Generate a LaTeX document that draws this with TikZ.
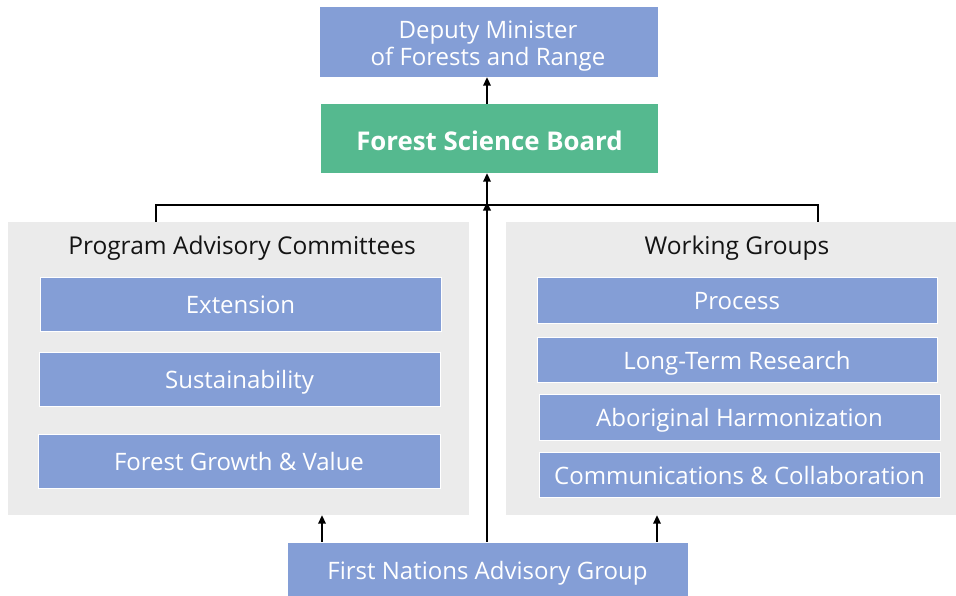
\documentclass[tikz,border=0pt]{standalone}
\usepackage{fontspec}
\setmainfont{Open Sans}
\usetikzlibrary{arrows.meta}
\definecolor{boxblue}{RGB}{132,158,214}
\definecolor{boardgreen}{RGB}{85,185,143}
\definecolor{panelgrey}{RGB}{235,235,235}
\definecolor{titleblack}{RGB}{20,20,20}
\tikzset{
  bluebox/.style={fill=boxblue, draw=white, line width=0.8pt, text=white, font=\fontsize{24}{27}\selectfont, inner sep=0pt, text height=19.5pt, text depth=0pt},
  greenbox/.style={fill=boardgreen, text=white, font=\bfseries\fontsize{25.8}{28}\selectfont, inner sep=0pt, text height=24pt, text depth=0pt},
  panel/.style={fill=panelgrey, inner sep=0pt},
  paneltitle/.style={text=titleblack, font=\fontsize{24.5}{27}\selectfont, inner sep=0pt},
  boxtext/.style={text=white, font=\fontsize{24}{27}\selectfont, inner sep=0pt, align=center},
  conn/.style={line width=2pt, black},
  arr/.style={conn, -{Triangle[length=8.5pt,width=7.5pt]}},
}
\begin{document}
\begin{tikzpicture}[x=1pt,y=-1pt]
\useasboundingbox[fill=white] (0,0) rectangle (956,595);
% top
\node[fill=boxblue, inner sep=0pt, minimum width=338, minimum height=70] (dm) at (489,42) {};
\node[boxtext] (dmt) at (488,46.5) {Deputy Minister\\of Forests and Range};
\node[greenbox, minimum width=337, minimum height=69] (fsb) at (489.5,138.5) {Forest Science Board};
% panels
\node[panel, minimum width=461, minimum height=293] (pac) at (238.5,368.5) {};
\node[paneltitle] (pact) at (242,248) {Program Advisory Committees};
\node[panel, minimum width=452, minimum height=293] (wg) at (732,368.5) {};
\node[paneltitle] (wgt) at (737,248) {Working Groups};
% left boxes
\node[bluebox, minimum width=401, minimum height=54] (ext) at (240.5,304) {Extension};
\node[bluebox, minimum width=401, minimum height=54] (sus) at (239.5,379) {Sustainability};
\node[bluebox, minimum width=402, minimum height=54] (fgv) at (239,461) {Forest Growth \& Value};
% right boxes
\node[bluebox, minimum width=400, minimum height=46] (proc) at (737,300) {Process};
\node[bluebox, minimum width=400, minimum height=45] (ltr) at (737,359.5) {Long-Term Research};
\node[bluebox, minimum width=401, minimum height=46] (abh) at (739.5,417) {Aboriginal Harmonization};
\node[bluebox, minimum width=401, minimum height=45] (cc) at (739.5,474.5) {Communications \& Collaboration};
% bottom
\node[bluebox, minimum width=401, minimum height=56] (fnag) at (487.5,570) {First Nations Advisory Group};
% connectors
\coordinate (j) at (487,205);
\coordinate (lt) at (156,205);
\coordinate (rt) at (818,205);
\coordinate (la) at (322,0);
\coordinate (ra) at (657,0);
\draw[arr] (j |- fsb.north) -- (j |- dm.south);
\draw[arr] (j) -- (j |- fsb.south);
\draw[conn] (lt |- pac.north) -- (lt) -- (rt) -- (rt |- wg.north);
\draw[arr] (j |- fnag.north) -- ([yshift=3pt]j);
\draw[arr] (la |- fnag.north) -- (la |- pac.south);
\draw[arr] (ra |- fnag.north) -- (ra |- wg.south);
\end{tikzpicture}
\end{document}
